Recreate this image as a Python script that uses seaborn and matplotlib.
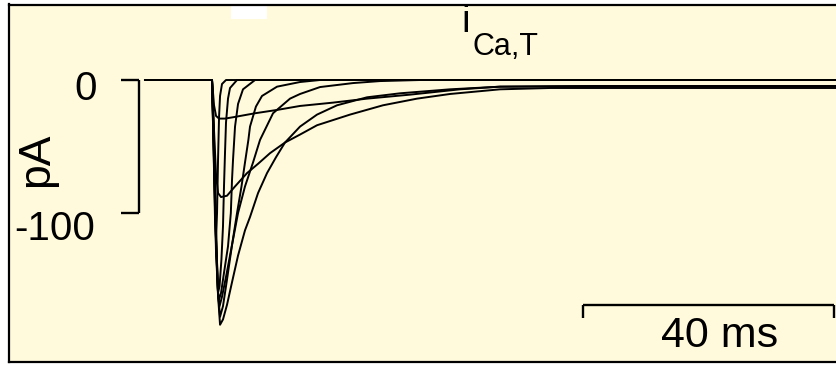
import numpy as np
import pandas as pd
import matplotlib
matplotlib.use("Agg")
import matplotlib.pyplot as plt
from matplotlib.patches import Rectangle
import seaborn as sns

sns.set_theme(style="white")
plt.rcParams["font.family"] = ["Liberation Sans", "DejaVu Sans"]
plt.rcParams["text.color"] = "black"

# Simulated T-type Ca2+ current family (time in ms from step onset, current in pA)
t_hold = -10.7
trace_A_t = [0, 0.32, 0.64, 0.96, 1.28, 1.75, 2.39, 3.19, 4.15, 5.26, 6.06, 7.34, 8.77, 10.21, 11.64, 14.04, 16.75, 19.94, 24.72, 29.98, 37.96, 45.93, 61.88, 99.68]
trace_A_i = [0, -45, -113, -162, -184, -180, -169, -152, -132, -113, -103, -85, -70, -58, -47, -35, -26, -19, -13, -10, -7, -5, -4.5, -4.5]

trace_B_t = [0, 0.32, 0.64, 0.96, 1.44, 2.39, 3.67, 5.58, 7.34, 9.25, 11.64, 14.04, 16.75, 22.01, 27.27, 32.70, 37.96, 45.93, 53.91, 99.68]
trace_B_i = [0, -38, -71, -85, -88, -87, -80, -70, -63, -55, -47, -41, -34, -26, -19, -14, -10.5, -7, -6, -6]

trace_C_t = [0, 0.32, 0.64, 1.12, 2.07, 3.35, 6.86, 10.37, 14.04, 19.30, 24.72, 31.58, 39.55, 45.93, 61.88, 99.68]
trace_C_i = [0, -19, -27, -29, -29, -28, -25, -22.5, -19.5, -17, -14, -11, -7, -5, -4.5, -4.5]

trace_D_t = [0, 0.32, 0.64, 0.96, 1.28, 1.75, 2.39, 3.19, 4.15, 5.26, 6.54, 7.66, 9.73, 12.44, 14.04, 17.22, 22.49, 26.79, 33.17, 99.68]
trace_D_i = [0, -50, -115, -160, -178, -170, -150, -124, -100, -80, -62, -45, -25, -14, -10.5, -5.3, -2.3, -0.8, 0, 0]

trace_E_t = [0, 0.32, 0.64, 0.96, 1.2, 1.59, 2.23, 3.19, 3.99, 4.7, 5.26, 5.8, 6.06, 7.0, 7.97, 10.37, 14.04, 17.22, 99.68]
trace_E_i = [0, -55, -120, -162, -170, -163, -148, -124, -100, -80, -62, -45, -35, -20, -12, -5, -1.5, 0, 0]

trace_F_t = [0, 0.32, 0.64, 0.96, 1.12, 1.44, 1.91, 2.55, 3.0, 3.19, 3.35, 3.67, 4.15, 4.94, 6.86, 99.68]
trace_F_i = [0, -60, -125, -160, -165, -160, -145, -125, -100, -75, -60, -35, -18, -7, 0, 0]

trace_G_t = [0, 0.32, 0.64, 0.96, 1.2, 1.5, 1.75, 1.91, 2.07, 2.23, 2.55, 2.87, 3.99, 99.68]
trace_G_i = [0, -65, -130, -160, -155, -135, -110, -80, -55, -32, -14, -6, 0, 0]

trace_H_t = [0, 0.24, 0.48, 0.64, 0.80, 0.96, 1.12, 1.28, 1.59, 2.23, 99.68]
trace_H_i = [0, -50, -105, -120, -100, -60, -28, -12, -3, 0, 0]

traces = {
    "A": (trace_A_t, trace_A_i), "B": (trace_B_t, trace_B_i),
    "C": (trace_C_t, trace_C_i), "D": (trace_D_t, trace_D_i),
    "E": (trace_E_t, trace_E_i), "F": (trace_F_t, trace_F_i),
    "G": (trace_G_t, trace_G_i), "H": (trace_H_t, trace_H_i),
}

rows = []
for name, (ts, cs) in traces.items():
    rows.append((name, t_hold, 0.0))
    for tt, cc in zip(ts, cs):
        rows.append((name, tt, cc))
df = pd.DataFrame(rows, columns=["trace", "time", "current"])

# Scale bars
ybar_t = -11.64
ybar_tick_t = [-14.5, -11.64]
ybar_i = [0, -100]
xbar_t = [59.2, 99.2]
xbar_i = -169.2
xbar_tick_i = -179.0

bg = "#FFFADC"
fig = plt.figure(figsize=(8.37, 3.65), dpi=100, facecolor="white")
ax = fig.add_axes([9 / 837, 3 / 365, 828 / 837, 357.5 / 365])
ax.set_facecolor(bg)

sns.lineplot(data=df, x="time", y="current", units="trace", estimator=None,
             sort=False, color="black", linewidth=1.4, ax=ax, legend=False)

# pA scale bar
ax.plot([ybar_t, ybar_t], ybar_i, color="black", lw=1.7, solid_capstyle="butt")
for v in ybar_i:
    ax.plot(ybar_tick_t, [v, v], color="black", lw=1.7, solid_capstyle="butt")
ax.text(-18.3, -15.0, "0", ha="right", va="baseline", fontsize=29, color="black")
ax.text(-18.6, -120.3, "-100", ha="right", va="baseline", fontsize=29, color="black")
ax.text(-27.9, -60, "pA", ha="center", va="center", rotation=90, fontsize=32, color="black")

# ms scale bar
ax.plot(xbar_t, [xbar_i, xbar_i], color="black", lw=1.7, solid_capstyle="butt")
for v in xbar_t:
    ax.plot([v, v], [xbar_i, xbar_tick_i], color="black", lw=1.7, solid_capstyle="butt")
ax.text(81.0, -200.5, "40 ms", ha="center", va="baseline", fontsize=31, color="black")

# Title i_Ca,T
ax.text(40.5, 36.1, "i", ha="center", va="baseline", fontsize=28, color="black")
ax.text(41.6, 18.8, "Ca,T", ha="left", va="baseline", fontsize=22, color="black")

ax.add_patch(Rectangle((3.03, 45.9), 5.74, 12, facecolor="white", edgecolor="none", zorder=0.5))

ax.set_xlim(-32.38, 99.68)
ax.set_ylim(-212.0, 56.77)
ax.set_xticks([])
ax.set_yticks([])
ax.set_xlabel("")
ax.set_ylabel("")
for side in ["left", "top", "bottom"]:
    ax.spines[side].set_visible(True)
    ax.spines[side].set_color("black")
    ax.spines[side].set_linewidth(1.6)
ax.spines["right"].set_visible(False)

fig.savefig("out.png", dpi=100, facecolor="white")
